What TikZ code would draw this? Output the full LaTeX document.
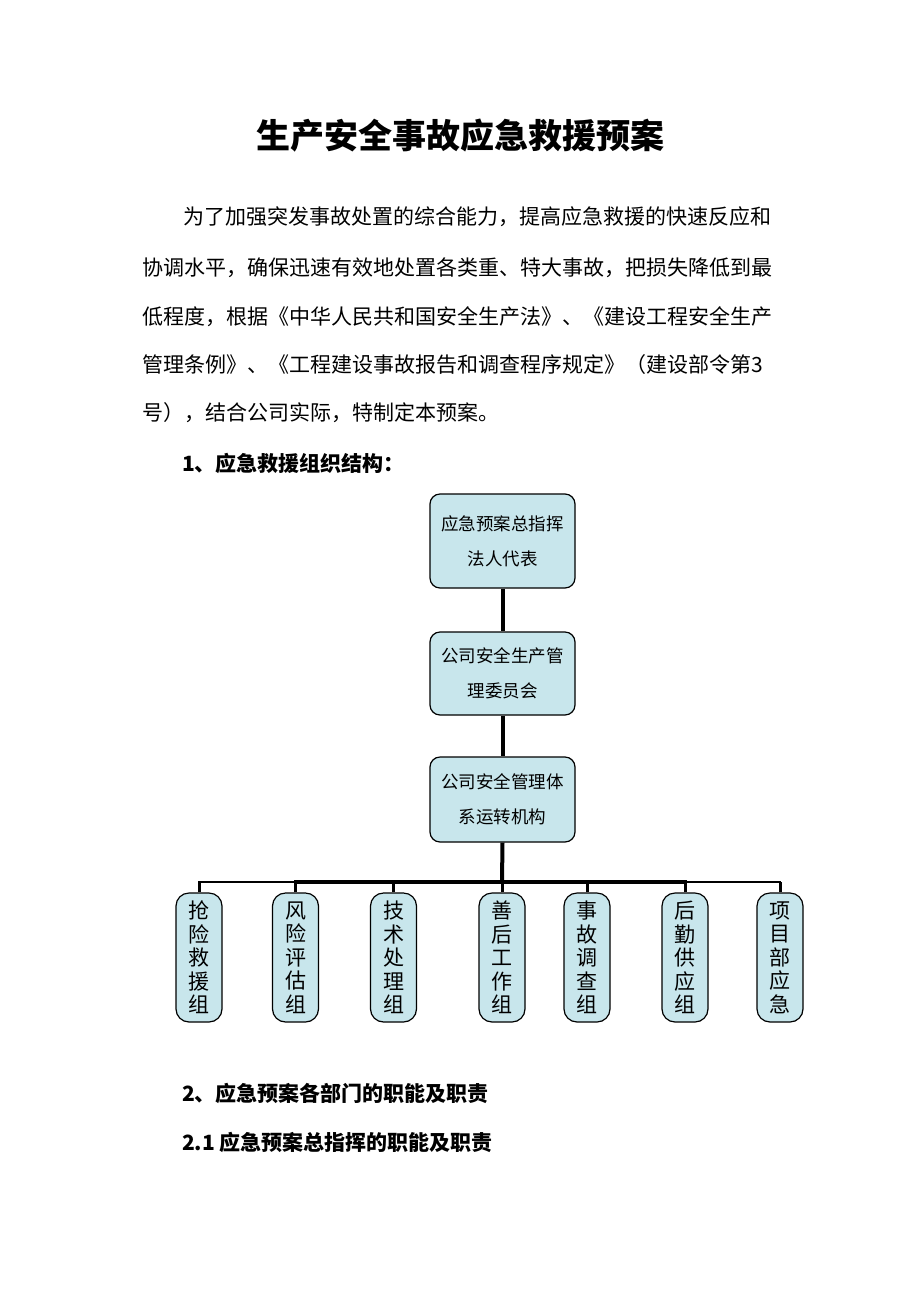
\documentclass[tikz,border=0pt]{standalone}
\usepackage{fontspec}
\setmainfont{Noto Sans CJK SC}
\XeTeXlinebreaklocale "zh"
\XeTeXlinebreakskip=0pt plus 3pt minus 1pt
\definecolor{boxfill}{RGB}{200,230,236}
\tikzset{
  bigbox/.style={draw=black, line width=1.2pt, fill=boxfill, rounded corners=10pt,
    minimum width=145pt, align=center, inner sep=0pt,
    font=\fontsize{17.5}{35}\selectfont},
  grpbox/.style={draw=black, line width=1.2pt, fill=boxfill, rounded corners=13pt,
    minimum width=46pt, minimum height=129pt, align=center, inner sep=0pt,
    font=\fontsize{21}{23.5}\selectfont},
  bodyline/.style={anchor=west, inner sep=0pt, font=\fontsize{21}{21}\selectfont},
  headline/.style={anchor=west, inner sep=0pt, font=\fontsize{21}{21}\selectfont\bfseries},
  trunk/.style={line width=4pt},
  busthick/.style={line width=4pt, line cap=rect},
  busthin/.style={line width=2.5pt, line cap=rect},
  stub/.style={line width=3pt},
}
\begin{document}
\begin{tikzpicture}[x=1pt,y=-1pt]
\fill[white] (0,0) rectangle (920,1302);
\useasboundingbox (0,0) rectangle (920,1302);

% title
\node[inner sep=0pt, font=\fontsize{34}{34}\selectfont\bfseries] (title) at (460,136) {生产安全事故应急救援预案};

% paragraph
\node[bodyline] (p1) at (183,217) {\hbox to 595pt{为了加强突发事故处置的综合能力，提高应急救援的快速反应和}};
\node[bodyline] (p2) at (142,268) {\hbox to 639pt{协调水平，确保迅速有效地处置各类重、特大事故，把损失降低到最}};
\node[bodyline] (p3) at (142,317) {\hbox to 639pt{低程度，根据《中华人民共和国安全生产法》、《建设工程安全生产}};
\node[bodyline] (p4) at (142,365) {\hbox to 636pt{管理条例》、《工程建设事故报告和调查程序规定》（建设部令第3}};
\node[bodyline] (p5) at (142,413) {号），结合公司实际，特制定本预案。};

\node[headline] (h1) at (182,463) {1、应急救援组织结构：};

% org chart
\node[bigbox, minimum height=94pt] (b1) at (502.5,541) {应急预案总指挥\\法人代表};
\node[bigbox, minimum height=83pt] (b2) at (502.5,673.5) {公司安全生产管\\理委员会};
\node[bigbox, minimum height=85pt] (b3) at (502.5,799.5) {公司安全管理体\\系运转机构};

\node[grpbox] (g1) at (199,957.5) {抢\\险\\救\\援\\组};
\node[grpbox] (g2) at (295.5,957.5) {风\\险\\评\\估\\组};
\node[grpbox] (g3) at (393.5,957.5) {技\\术\\处\\理\\组};
\node[grpbox] (g4) at (502,957.5) {善\\后\\工\\作\\组};
\node[grpbox] (g5) at (587,957.5) {事\\故\\调\\查\\组};
\node[grpbox] (g6) at (685,957.5) {后\\勤\\供\\应\\组};
\node[grpbox] (g7) at (780,957.5) {项\\目\\部\\应\\急};

\coordinate (bus) at (502,882);

\draw[trunk] (b1.south) -- (b2.north);
\draw[trunk] (b2.south) -- (b3.north);
\draw[trunk] (b3.south) -- (bus);

\draw[busthin] (g1.north |- bus) -- (g2.north |- bus);
\draw[busthick] (g2.north |- bus) -- (g6.north |- bus);
\draw[busthin] (g6.north |- bus) -- (g7.north |- bus);

\foreach \g in {g1,g2,g3,g4,g5,g6,g7}
  \draw[stub] (\g.north) -- (\g.north |- bus);

% headings below
\node[headline] (h2) at (182,1093) {2、应急预案各部门的职能及职责};
\node[headline] (h3) at (182,1142) {2.1 应急预案总指挥的职能及职责};
\end{tikzpicture}
\end{document}
